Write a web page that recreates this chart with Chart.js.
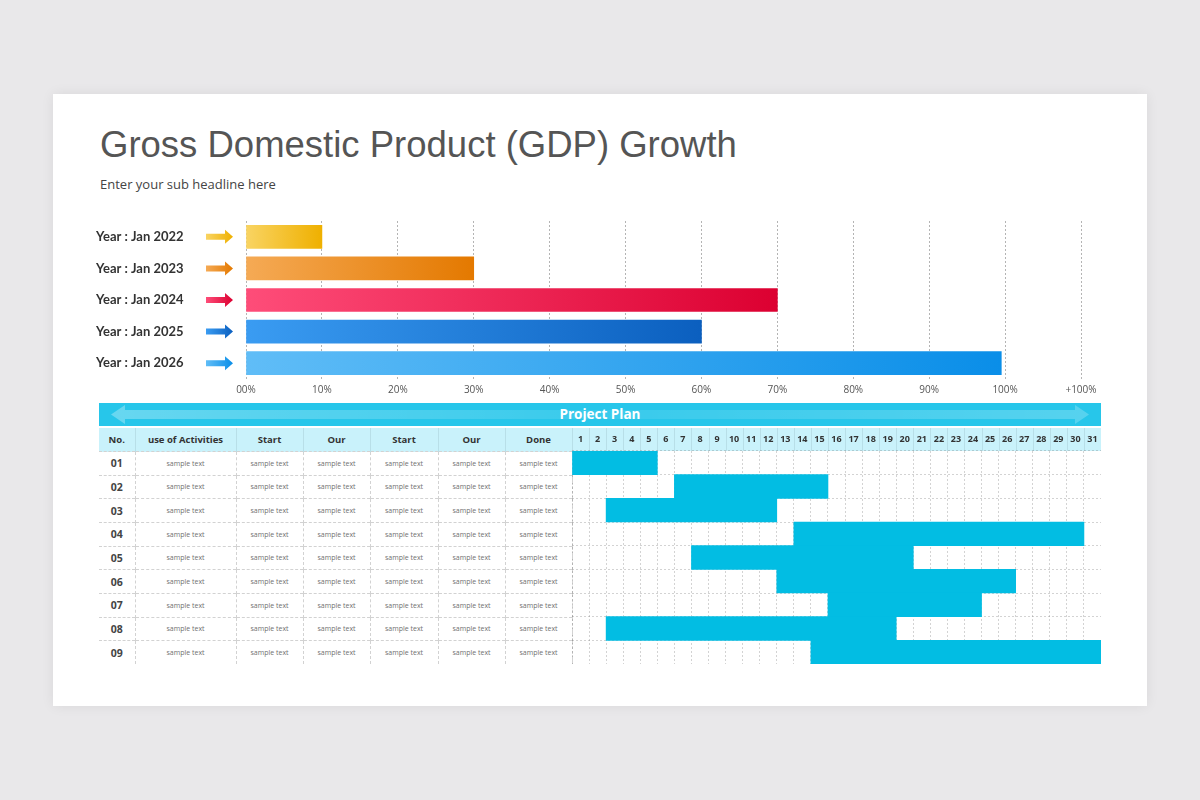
<!DOCTYPE html>
<html>
<head>
<meta charset="utf-8">
<title>Gross Domestic Product (GDP) Growth</title>
<script src="https://cdn.jsdelivr.net/npm/chart.js@4.4.1/dist/chart.umd.min.js"></script>
<style>
  html, body { margin: 0; padding: 0; }
  body { width: 1200px; height: 800px; background: #e9e8ea; position: relative; overflow: hidden; font-family: 'Open Sans', sans-serif; }
  .slide { position: absolute; left: 53px; top: 94px; width: 1094px; height: 612px; background: #fff; box-shadow: 0 0 12px rgba(0,0,0,0.07); }
  h1 { position: absolute; left: 100px; top: 124px; margin: 0; font: normal 36.5px/42px 'Liberation Sans', Arial, sans-serif; color: #555; white-space: nowrap; }
  .sub { position: absolute; left: 100px; top: 175px; font: 13px/18px 'Open Sans', sans-serif; color: #444; }
  #gdpWrap { position: absolute; left: 90px; top: 205px; width: 1020px; height: 196px; }
  .plan { position: absolute; left: 99px; top: 403px; width: 1002px; height: 23px; background: #27c6ea; }
  .plan svg { position: absolute; left: 0; top: 0; }
  .plan span { position: absolute; left: 0; right: 0; top: 0; line-height: 23px; text-align: center; color: #fff; font: bold 13.5px/23px 'Open Sans', sans-serif; }
  table.tasks { position: absolute; left: 99px; top: 428px; width: 473px; border-collapse: collapse; table-layout: fixed; }
  table.tasks th { height: 23px; padding: 0; background: #c9f2fb; font: bold 9.5px 'Open Sans', sans-serif; color: #333; border-right: 1px solid #b8dfe8; }
  table.tasks td { height: 22.67px; padding: 0; text-align: center; font: 7px 'Open Sans', sans-serif; color: #707070; border-right: 1px dashed #d2d2d2; border-top: 1px dashed #d2d2d2; }
  table.tasks td.no { font: bold 10.5px 'Open Sans', sans-serif; color: #444; }
  #ganttWrap { position: absolute; left: 572px; top: 428px; width: 529px; height: 236px; }
</style>
</head>
<body>
<div class="slide"></div>
<h1>Gross Domestic Product (GDP) Growth</h1>
<div class="sub">Enter your sub headline here</div>

<div id="gdpWrap"><canvas id="gdpChart"></canvas></div>

<div class="plan">
  <svg width="1002" height="23">
    <defs>
      <linearGradient id="arrowFill" x1="0" x2="1" y1="0" y2="0">
        <stop offset="0" stop-color="#fff" stop-opacity="0.30"/>
        <stop offset="0.5" stop-color="#fff" stop-opacity="0.08"/>
        <stop offset="1" stop-color="#fff" stop-opacity="0.22"/>
      </linearGradient>
    </defs>
    <polygon points="12,11.5 26,2 26,7 976,7 976,2 990,11.5 976,21 976,16 26,16 26,21" fill="url(#arrowFill)"/>
  </svg>
  <span>Project Plan</span>
</div>

<table class="tasks" id="taskTable">
  <colgroup>
    <col style="width:36px"><col style="width:101px"><col style="width:67px"><col style="width:67px">
    <col style="width:68px"><col style="width:67px"><col style="width:67px">
  </colgroup>
  <thead><tr id="taskHead"></tr></thead>
  <tbody id="taskBody"></tbody>
</table>

<div id="ganttWrap"><canvas id="ganttChart"></canvas></div>

<script>
// GDP growth bars
const yearLabels = ['Year : Jan 2022', 'Year : Jan 2023', 'Year : Jan 2024', 'Year : Jan 2025', 'Year : Jan 2026'];
const growthValues = [10, 30, 70, 60, 99.5];
const xTickLabels = ['00%', '10%', '20%', '30%', '40%', '50%', '60%', '70%', '80%', '90%', '100%', '+100%'];

// colours of each bar (light -> dark)
const barLight = ['#f9d463', '#f5aa55', '#fe4d79', '#3a9cf2', '#60bdf7'];
const barDark = ['#efb000', '#e47900', '#dc0031', '#0b5fbf', '#0a8ee8'];

// project plan
const tableHeaders = ['No.', 'use of Activities', 'Start', 'Our', 'Start', 'Our', 'Done'];
const rowLabels = ['01', '02', '03', '04', '05', '06', '07', '08', '09'];
const cellText = 'sample text';
const dayLabels = ['1', '2', '3', '4', '5', '6', '7', '8', '9', '10', '11', '12', '13', '14', '15', '16',
  '17', '18', '19', '20', '21', '22', '23', '24', '25', '26', '27', '28', '29', '30', '31'];
const taskStart = [1, 7, 3, 14, 8, 13, 16, 3, 15];
const taskEnd = [5, 15, 12, 30, 20, 26, 24, 19, 31];

// --- table text columns
const head = document.getElementById('taskHead');
tableHeaders.forEach(h => {
    const th = document.createElement('th');
    th.textContent = h;
    head.appendChild(th);
});
const body = document.getElementById('taskBody');
rowLabels.forEach(r => {
    const tr = document.createElement('tr');
    tableHeaders.forEach((h, i) => {
        const td = document.createElement('td');
        if (i === 0) { td.className = 'no'; td.textContent = r; }
        else td.textContent = cellText;
        tr.appendChild(td);
    });
    body.appendChild(tr);
});

// small arrows between the year labels and the bars
const arrowPlugin = {
    id: 'arrows',
    afterDraw(chart) {
        const ctx = chart.ctx;
        const y = chart.scales.y;
        yearLabels.forEach((l, i) => {
            const cy = y.getPixelForValue(i);
            const x0 = 116, x1 = 135, x2 = 143;
            const g = ctx.createLinearGradient(x0, 0, x2, 0);
            g.addColorStop(0, barLight[i]);
            g.addColorStop(1, barDark[i]);
            ctx.save();
            ctx.fillStyle = g;
            ctx.beginPath();
            ctx.moveTo(x0, cy - 3);
            ctx.lineTo(x1, cy - 3);
            ctx.lineTo(x1, cy - 7);
            ctx.lineTo(x2, cy);
            ctx.lineTo(x1, cy + 7);
            ctx.lineTo(x1, cy + 3);
            ctx.lineTo(x0, cy + 3);
            ctx.closePath();
            ctx.fill();
            ctx.restore();
        });
    }
};

new Chart(document.getElementById('gdpChart'), {
    type: 'bar',
    data: {
        labels: yearLabels,
        datasets: [{
            data: growthValues,
            barThickness: 23,
            borderWidth: 0,
            backgroundColor: (c) => {
                const chart = c.chart;
                const area = chart.chartArea;
                if (!area) return barDark[c.dataIndex];
                const end = chart.scales.x.getPixelForValue(c.raw);
                const g = chart.ctx.createLinearGradient(area.left, 0, end, 0);
                g.addColorStop(0, barLight[c.dataIndex]);
                g.addColorStop(1, barDark[c.dataIndex]);
                return g;
            }
        }]
    },
    options: {
        indexAxis: 'y',
        responsive: true,
        maintainAspectRatio: false,
        animation: false,
        layout: { padding: { top: 16, right: 29, bottom: 0, left: 6 } },
        plugins: { legend: { display: false }, tooltip: { enabled: false } },
        scales: {
            x: {
                min: 0,
                max: 110,
                ticks: {
                    stepSize: 10,
                    padding: 5,
                    color: '#555',
                    font: { family: 'Open Sans', size: 10 },
                    callback: (v, i) => xTickLabels[i]
                },
                grid: { color: '#b4b4b4', drawTicks: false },
                border: { display: false, dash: [2, 2] }
            },
            y: {
                grid: { display: false, drawTicks: false },
                border: { display: false },
                ticks: {
                    padding: 0,
                    crossAlign: 'far',
                    color: '#333',
                    font: { family: 'Lato', size: 13, weight: 'bold' }
                },
                afterFit: (s) => { s.width = 150; }
            }
        }
    },
    plugins: [arrowPlugin]
});

// header band behind the day numbers
const headerPlugin = {
    id: 'dayHeader',
    beforeDraw(chart) {
        const ctx = chart.ctx;
        const a = chart.chartArea;
        const x = chart.scales.x;
        ctx.save();
        ctx.fillStyle = '#c9f2fb';
        ctx.fillRect(a.left, 0, a.right - a.left, a.top);
        ctx.strokeStyle = '#b8dfe8';
        ctx.lineWidth = 1;
        for (let d = 0; d < dayLabels.length; d++) {
            const px = Math.round(x.getPixelForValue(d)) + 0.5;
            ctx.beginPath();
            ctx.moveTo(px, 0);
            ctx.lineTo(px, a.top);
            ctx.stroke();
        }
        ctx.restore();
    }
};

new Chart(document.getElementById('ganttChart'), {
    type: 'bar',
    data: {
        labels: rowLabels,
        datasets: [{
            data: taskStart.map((s, i) => [s - 1, taskEnd[i]]),
            backgroundColor: '#02bde3',
            borderWidth: 0,
            barPercentage: 1,
            categoryPercentage: 1
        }]
    },
    options: {
        indexAxis: 'y',
        responsive: true,
        maintainAspectRatio: false,
        animation: false,
        layout: { padding: 0 },
        plugins: { legend: { display: false }, tooltip: { enabled: false } },
        scales: {
            x: {
                min: 0,
                max: dayLabels.length,
                z: 1,
                ticks: { stepSize: 1, display: false },
                grid: {
                    drawTicks: false,
                    color: (c) => (c.tick && c.tick.value === dayLabels.length) ? 'transparent' : 'rgba(110,110,110,0.3)'
                },
                border: { display: false, dash: [2, 2] },
                afterFit: (s) => { s.height = 0; }
            },
            xTop: {
                type: 'category',
                position: 'top',
                labels: dayLabels,
                offset: true,
                grid: { display: false, drawTicks: false },
                border: { display: false },
                ticks: {
                    padding: 1.5,
                    autoSkip: false,
                    maxRotation: 0,
                    color: '#333',
                    font: { family: 'Open Sans', size: 9, weight: 'bold', lineHeight: 2.2 }
                },
                afterFit: (s) => { s.height = 23; }
            },
            y: {
                z: 1,
                ticks: { display: false },
                grid: {
                    drawTicks: false,
                    color: (c) => c.index >= rowLabels.length ? 'transparent' : 'rgba(110,110,110,0.3)'
                },
                border: { display: false, dash: [2, 2] },
                afterFit: (s) => { s.width = 0; }
            }
        }
    },
    plugins: [headerPlugin]
});
</script>
</body>
</html>
